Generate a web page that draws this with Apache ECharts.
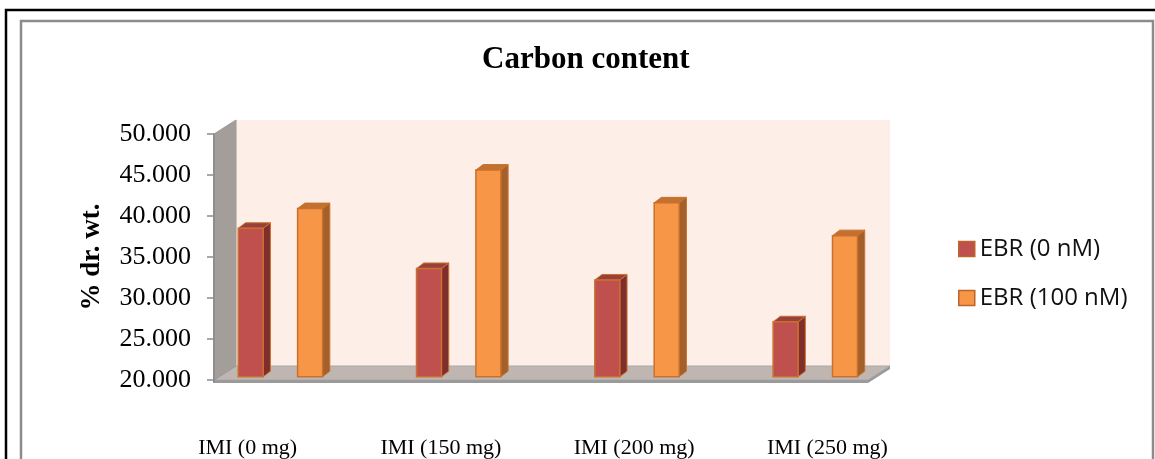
<!DOCTYPE html>
<html>
<head>
<meta charset="utf-8">
<script src="https://cdn.jsdelivr.net/npm/echarts@6/dist/echarts.min.js"></script>
<style>
html,body{margin:0;padding:0;background:#fff;}
#chart{width:1155px;height:459px;}
</style>
</head>
<body>
<div id="chart"></div>
<script>
// ---- data ----
const categories = ['IMI (0 mg)', 'IMI (150 mg)', 'IMI (200 mg)', 'IMI (250 mg)'];
const seriesNames = ['EBR (0 nM)', 'EBR (100 nM)'];
const ebr0 = [38.1, 33.2, 31.8, 26.7];
const ebr100 = [40.5, 45.2, 41.2, 37.2];
const yMin = 20, yMax = 50, yStep = 5;

// ---- styles ----
const redCols = {front: '#C0504D', side: '#7F2E2C', top: '#98403C', edge: '#C9702E'};
const orCols = {front: '#F79646', side: '#A3602B', top: '#C27130', edge: '#C9702E'};
const DEPTH = [22, -14];

function barRender(sign, cols) {
  return function (params, api) {
    const i = api.value(0), v = api.value(1);
    const top = api.coord([i, v]);
    const base = api.coord([i, yMin]);
    const band = api.size([1, 0])[0];
    const w = band * 0.14;
    const xc = top[0] + sign * band * 0.1665;
    const x0 = xc - w / 2, x1 = xc + w / 2, yt = top[1], yb = base[1];
    const dx = w * 0.29, dy = -w * 0.22;
    return {
      type: 'group',
      children: [
        {type: 'polygon', shape: {points: [[x1, yt], [x1 + dx, yt + dy], [x1 + dx, yb + dy], [x1, yb]]},
          style: {fill: cols.side, stroke: cols.edge, lineWidth: 1}},
        {type: 'polygon', shape: {points: [[x0, yt], [x0 + dx, yt + dy], [x1 + dx, yt + dy], [x1, yt]]},
          style: {fill: cols.top, stroke: cols.edge, lineWidth: 1}},
        {type: 'rect', shape: {x: x0, y: yt, width: w, height: yb - yt},
          style: {fill: cols.front, stroke: cols.edge, lineWidth: 1.5}}
      ]
    };
  };
}

function wallRender(params, api) {
  const cs = params.coordSys;
  const L = cs.x, R = cs.x + cs.width;
  const T = api.coord([0, yMax])[1], B = api.coord([0, yMin])[1];
  const dx = DEPTH[0], dy = DEPTH[1], th = 3;
  return {
    type: 'group',
    children: [
      {type: 'polygon', shape: {points: [[L + dx, T + dy], [R + dx, T + dy], [R + dx, B + dy], [L + dx, B + dy]]},
        style: {fill: '#FDEEE7'}},
      {type: 'polygon', shape: {points: [[L, B], [L + dx, B + dy], [R + dx, B + dy], [R, B]]},
        style: {fill: '#BFB6B2', stroke: '#A8A8A8', lineWidth: 1}},
      {type: 'polygon', shape: {points: [[L, B], [R, B], [R, B + th], [L, B + th]]},
        style: {fill: '#9A9A9A'}},
      {type: 'polygon', shape: {points: [[R, B], [R + dx, B + dy], [R + dx, B + dy + th], [R, B + th]]},
        style: {fill: '#9A9A9A'}},
      {type: 'polygon', shape: {points: [[L, T], [L + dx, T + dy], [L + dx, B + dy], [L, B]]},
        style: {fill: '#A49E9B', stroke: '#9A9A9A', lineWidth: 1}},
      {type: 'line', shape: {x1: L, y1: T, x2: L, y2: B + th},
        style: {stroke: '#8E8E8E', lineWidth: 2}}
    ]
  };
}

const chart = echarts.init(document.getElementById('chart'), null, {renderer: 'canvas'});
const option = {
  backgroundColor: '#ffffff',
  animation: false,
  title: {
    text: 'Carbon content',
    left: 482, top: 44, padding: 0,
    textStyle: {fontFamily: 'Liberation Serif', fontWeight: 'bold', fontSize: 31, color: '#000'}
  },
  legend: {
    orient: 'vertical',
    left: 958, top: 237, padding: 0,
    itemWidth: 16, itemHeight: 15, itemGap: 25,
    icon: 'rect',
    data: [
      {name: seriesNames[0], itemStyle: {color: redCols.front, borderColor: '#B9662B', borderWidth: 1.5}},
      {name: seriesNames[1], itemStyle: {color: orCols.front, borderColor: '#B9662B', borderWidth: 1.5}}
    ],
    textStyle: {fontFamily: 'Open Sans', fontSize: 24, color: '#111'}
  },
  graphic: [
    {type: 'rect', shape: {x: 6, y: 10, width: 1200, height: 600}, style: {fill: 'none', stroke: '#000', lineWidth: 2.5}, silent: true},
    {type: 'rect', shape: {x: 21, y: 21, width: 1132, height: 600}, style: {fill: 'none', stroke: '#8C8C8C', lineWidth: 2.5}, silent: true}
  ],
  grid: [
    {left: 214, top: 134, width: 654, height: 246},
    {left: 191.25, top: 130.7, width: 713.2, height: 246},
    {left: 151, top: 134, width: 773, height: 246}
  ],
  xAxis: [
    {gridIndex: 0, type: 'category', data: categories, axisLine: {show: false}, axisTick: {show: false}, axisLabel: {show: false}},
    {gridIndex: 1, type: 'category', data: categories, axisLine: {show: false}, axisTick: {show: false}, axisLabel: {show: false}},
    {gridIndex: 2, type: 'category', data: categories, axisLine: {show: false}, axisTick: {show: false},
      axisLabel: {margin: 57, fontFamily: 'Liberation Serif', fontSize: 22, color: '#000'}}
  ],
  yAxis: [
    {gridIndex: 0, type: 'value', min: yMin, max: yMax, interval: yStep,
      name: '% dr. wt.', nameLocation: 'middle', nameGap: 108,
      nameTextStyle: {fontFamily: 'Liberation Serif', fontWeight: 'bold', fontSize: 27, color: '#000'},
      axisLine: {show: true, lineStyle: {color: '#8E8E8E', width: 2}},
      axisTick: {show: true, length: 7, lineStyle: {color: '#8C8C8C', width: 1.5}},
      splitLine: {show: false},
      axisLabel: {margin: 23, fontFamily: 'Liberation Serif', fontSize: 26, color: '#000',
        formatter: function (v) { return v.toFixed(3); }}},
    {gridIndex: 1, type: 'value', min: yMin, max: yMax, interval: yStep, show: false},
    {gridIndex: 2, type: 'value', min: yMin, max: yMax, interval: yStep, show: false}
  ],
  series: [
    {type: 'custom', name: 'walls', xAxisIndex: 0, yAxisIndex: 0, z: 1, silent: true,
      renderItem: wallRender, data: [[0, yMin]]},
    {type: 'custom', name: seriesNames[0], xAxisIndex: 1, yAxisIndex: 1, z: 3,
      itemStyle: {color: redCols.front},
      renderItem: barRender(-1, redCols),
      data: ebr0.map((v, i) => [i, v])},
    {type: 'custom', name: seriesNames[1], xAxisIndex: 1, yAxisIndex: 1, z: 3,
      itemStyle: {color: orCols.front},
      renderItem: barRender(1, orCols),
      data: ebr100.map((v, i) => [i, v])}
  ]
};
chart.setOption(option);
</script>
</body>
</html>
